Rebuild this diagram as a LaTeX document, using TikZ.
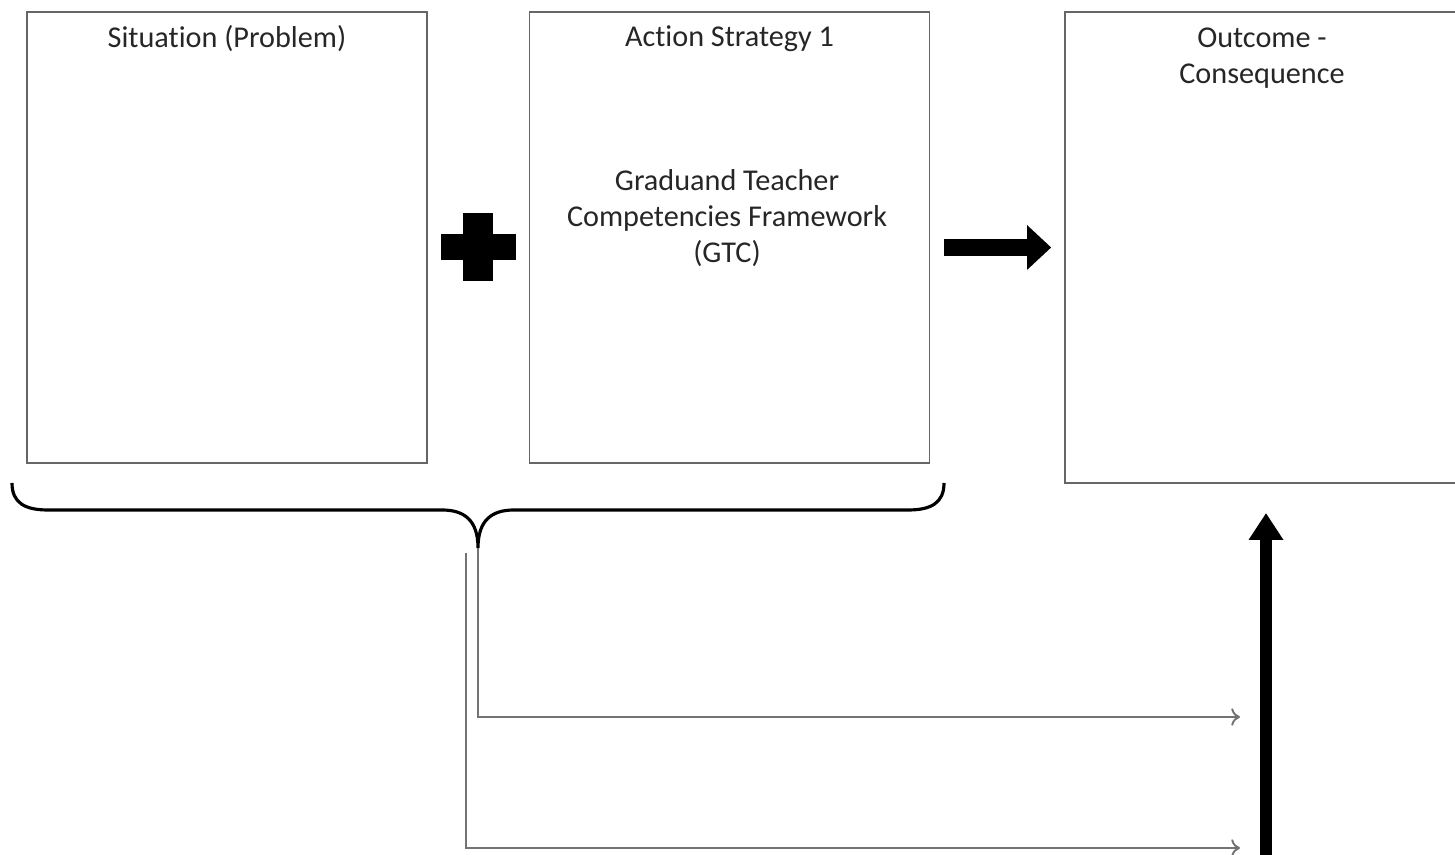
\documentclass[tikz,border=0pt]{standalone}
\usepackage{fontspec}
\setmainfont[Ligatures=NoCommon]{Carlito}
\usepackage{tikz}
\usetikzlibrary{arrows.meta,positioning,calc}
\tikzstyle{panel}=[draw=black!60,line width=0.45pt,minimum width=4cm,minimum height=4.51cm,inner sep=0pt]
\tikzstyle{title}=[anchor=north,align=center,inner sep=0pt,text=black!85]
\tikzstyle{thinArrow}=[draw=black!55,line width=0.55pt,-{To[length=2.5pt,width=5pt]}]
\tikzstyle{bigArrow}=[draw=black,-{Triangle[length=0.24cm,width=0.43cm]}]

\begin{document}
\begin{tikzpicture}[font=\fontsize{8.6}{10.3}\selectfont]
    \clip (0,0) rectangle (14.55,8.55);
    % boxes
    \node [panel] (sit) at (2.27,6.175) {};
    \node [panel] (act) at (7.295,6.175) {};
    \node [panel,minimum width=4.2cm,minimum height=4.71cm] (out) at (12.75,6.075) {};
    \node [title] (sitT) at ([yshift=-0.13cm]sit.north) {Situation (Problem)};
    \node [title] (actT) at ([yshift=-0.14cm]act.north) {Action Strategy 1};
    \node [title] (outT) at (12.62,8.28) {Outcome -\\Consequence};
    \node [align=center,text=black!85,inner sep=0pt] (gtc) at (7.27,6.37)
      {Graduand Teacher\\Competencies Framework\\(GTC)};
    % plus sign
    \coordinate (plus) at (4.78,6.08);
    \fill ($(plus)+(-0.15,-0.34)$) rectangle ($(plus)+(0.15,0.34)$);
    \fill ($(plus)+(-0.375,-0.13)$) rectangle ($(plus)+(0.375,0.13)$);
    % arrow to outcome
    \draw [bigArrow,line width=0.17cm] ([xshift=0.14cm]act.east |- 0,6.075) -- ([xshift=-0.13cm]out.west |- 0,6.075);
    % brace
    \coordinate (tip) at (4.78,3.07);
    \draw [line width=0.9pt] (0.12,3.72) .. controls (0.12,3.52) and (0.25,3.45) .. (0.48,3.45)
      -- (4.42,3.45) .. controls (4.64,3.45) and (4.78,3.35) .. (tip)
      .. controls (4.78,3.35) and (4.92,3.45) .. (5.14,3.45)
      -- (9.08,3.45) .. controls (9.31,3.45) and (9.44,3.52) .. (9.44,3.72);
    % thin connectors
    \coordinate (endA) at (12.40,1.38);
    \coordinate (startB) at (4.66,3.02);
    \coordinate (endB) at (12.40,0.07);
    \draw [thinArrow] (tip) |- (endA);
    \draw [thinArrow] (startB) |- (endB);
    % up arrow
    \coordinate (upBase) at (12.66,-0.1);
    \coordinate (upTip) at (12.66,3.42);
    \draw [bigArrow,line width=0.12cm,-{Triangle[length=0.27cm,width=0.33cm]}] (upBase) -- (upTip);
\end{tikzpicture}
\end{document}
